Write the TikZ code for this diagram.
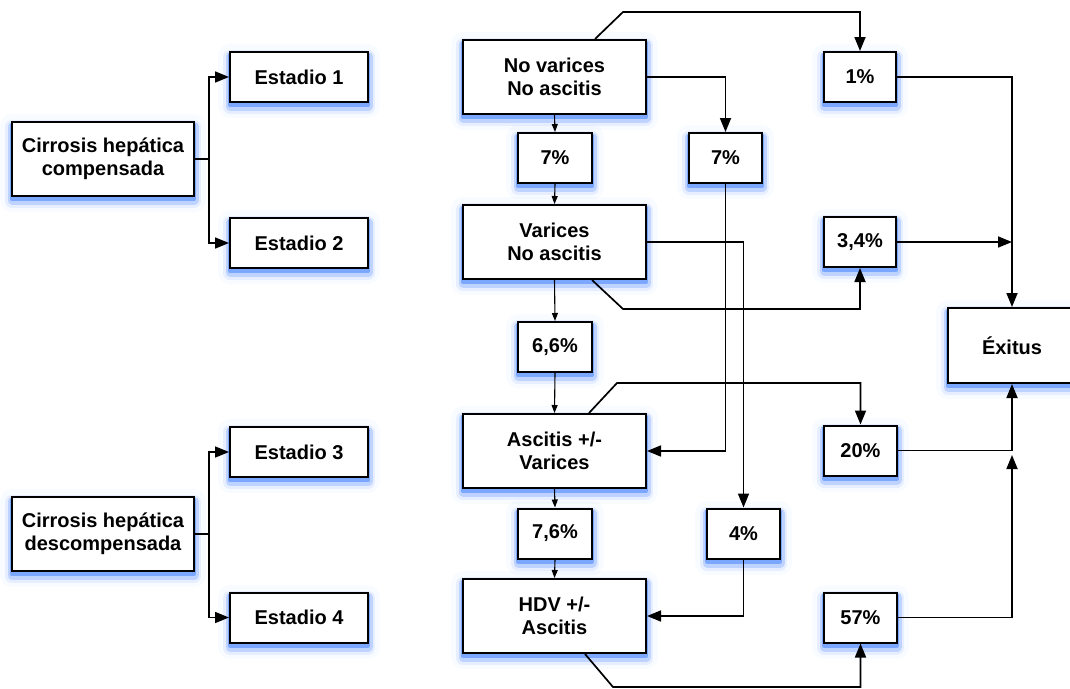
\documentclass[tikz,border=0pt]{standalone}
\usepackage{fontspec}
\setmainfont{Liberation Sans}
\usetikzlibrary{arrows.meta,shadows,calc}
\definecolor{glowc}{RGB}{70,130,255}
\tikzset{
  glowbox/.style={
    general shadow={shadow yshift=-4pt, draw=glowc, line width=24pt, opacity=0.035, line join=round},
    general shadow={shadow yshift=-5pt, draw=glowc, line width=14pt, opacity=0.1, line join=round},
    general shadow={shadow yshift=-4.5pt, draw=glowc, line width=9pt, opacity=0.25, line join=round},
    general shadow={shadow yshift=-3pt, draw=glowc, line width=4.5pt, opacity=0.55, line join=round},
  },
  box/.style={glowbox, draw=black, fill=white, line width=2pt, inner sep=0pt,
    align=center, font=\bfseries\fontsize{20}{23}\selectfont},
  bigbox/.style={box, minimum width=183pt, minimum height=74pt},
  stagebox/.style={box, minimum width=138pt, minimum height=50pt},
  pctbox/.style={box, minimum width=73pt, minimum height=50pt},
  arr/.style={line width=1.7pt, -{Triangle[length=14pt,width=11pt]}},
  thin/.style={line width=1.1pt, -{Triangle[length=8pt,width=6pt]}},
}
\begin{document}
\begin{tikzpicture}[x=1pt,y=-1pt]
\useasboundingbox (0,0) rectangle (1070,688);

% left column: classification into stages
\node[bigbox, minimum width=182pt] (comp) at (103,159) {Cirrosis hepática\\compensada};
\node[bigbox, minimum width=182pt] (desc) at (103,534) {Cirrosis hepática\\descompensada};
\node[stagebox] (e1) at (299,77) {Estadio 1};
\node[stagebox] (e2) at (299,243) {Estadio 2};
\node[stagebox] (e3) at (299,452) {Estadio 3};
\node[stagebox] (e4) at (299,617.5) {Estadio 4};

% clinical states
\node[bigbox] (nv) at (554.5,77) {No varices\\No ascitis};
\node[bigbox] (va) at (554.5,242) {Varices\\No ascitis};
\node[bigbox] (as) at (554.5,451) {Ascitis +/-\\Varices};
\node[bigbox] (hdv) at (554.5,616) {HDV +/-\\Ascitis};

% transition rates
\node[pctbox, minimum width=74pt] (p7a) at (555,158) {7\%};
\node[pctbox] (p7b) at (725.5,158) {7\%};
\node[pctbox, minimum width=74pt] (p66) at (555,347) {6,6\%};
\node[pctbox, minimum width=74pt] (p76) at (555,533.5) {7,6\%};
\node[pctbox] (p4) at (743.5,533.5) {4\%};

% mortality rates
\node[pctbox, minimum width=72pt] (p1) at (860,77) {1\%};
\node[pctbox, minimum width=72pt] (p34) at (860,242) {3,4\%};
\node[pctbox] (p20) at (860.5,450.5) {20\%};
\node[pctbox] (p57) at (860.5,617.5) {57\%};
\node[box, minimum width=128pt, minimum height=75pt] (ex) at (1012,345.5) {Éxitus};

% stage branches
\draw[arr] (comp.east) -- ++(14,0) |- (e1.west);
\draw[arr] (comp.east) -- ++(14,0) |- (e2.west);
\draw[arr] (desc.east) -- ++(14,0) |- (e3.west);
\draw[arr] (desc.east) -- ++(14,0) |- (e4.west);

% progression chain
\draw[thin] (nv.south) -- (p7a.north);
\draw[thin] (p7a.south) -- (va.north);
\draw[thin] (va.south) -- (p66.north);
\draw[thin] (p66.south) -- (as.north);
\draw[thin] (as.south) -- (p76.north);
\draw[thin] (p76.south) -- (hdv.north);

% direct jumps
\draw[arr] (nv.east) -| (p7b.north);
\draw[arr] (p7b.south) |- (as.east);
\draw[arr] (va.east) -| (p4.north);
\draw[arr] (p4.south) |- (hdv.east);

% routes to death
\coordinate (nvt) at ([xshift=40.5pt]nv.north);
\coordinate (vab) at ([xshift=37.5pt]va.south);
\coordinate (ast) at ([xshift=34.5pt]as.north);
\coordinate (hdvb) at ([xshift=30.5pt]hdv.south);
\draw[arr] (nvt) -- (623,12) -| (p1.north);
\draw[arr] (vab) -- (623,309) -| (p34.south);
\draw[arr] (ast) -- (617,383) -| (p20.north);
\draw[arr] (hdvb) -- (613,687) -| (p57.south);

\coordinate (j34) at (p34.east -| ex.north);
\coordinate (j20) at ($(p20.east -| ex.south)+(0,4.5)$);
\draw[arr] (p1.east) -| (ex.north);
\draw[arr] (p34.east) -- (j34);
\draw[arr] (p20.east) -| (ex.south);
\draw[arr] (p57.east) -| (j20);
\end{tikzpicture}
\end{document}
